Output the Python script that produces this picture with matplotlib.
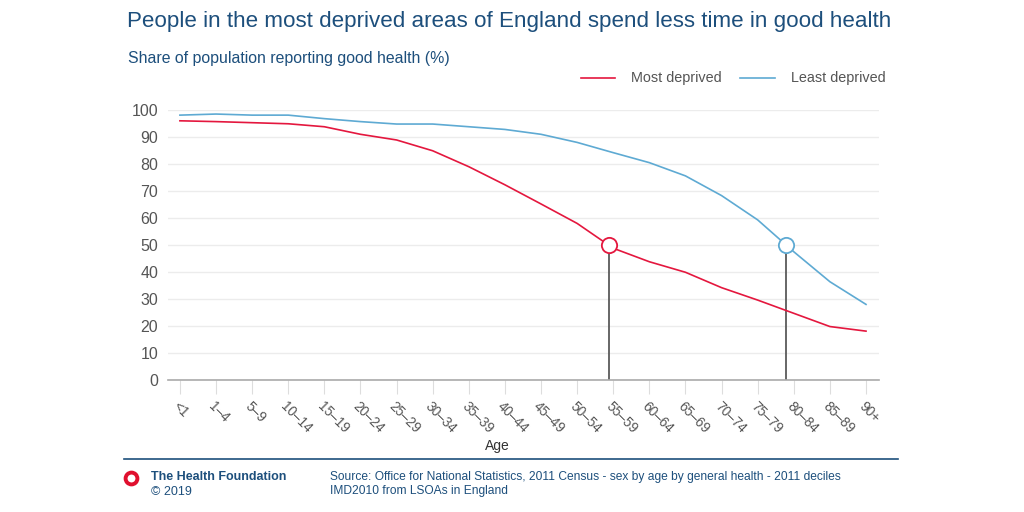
import numpy as np
import matplotlib
matplotlib.use("Agg")
import matplotlib.pyplot as plt
from matplotlib.lines import Line2D

plt.rcParams['font.family'] = ['Liberation Sans', 'DejaVu Sans']

ages = ["<1", "1–4", "5–9", "10–14", "15–19", "20–24", "25–29", "30–34", "35–39",
        "40–44", "45–49", "50–54", "55–59", "60–64", "65–69", "70–74", "75–79",
        "80–84", "85–89", "90+"]
most_deprived = [96.0, 95.7, 95.3, 94.9, 93.8, 91.0, 88.9, 84.9, 79.0, 72.3, 65.2,
                 58.0, 48.8, 43.8, 39.9, 34.2, 29.6, 24.7, 19.8, 18.1]
least_deprived = [98.1, 98.5, 98.1, 98.1, 96.8, 95.7, 94.8, 94.8, 93.8, 92.8, 91.0,
                  88.0, 84.2, 80.5, 75.6, 68.3, 59.3, 47.5, 36.4, 28.0]
threshold = 50
yticks = list(range(0, 101, 10))

RED = '#e4173e'
BLUE = '#5eaad3'
NAVY = '#1d4f7c'
GREY = '#555555'

fig = plt.figure(figsize=(10.24, 5.12), dpi=100)
ax = fig.add_axes([168/1024, 1-380/512, 711/1024, 270/512])

x = np.arange(len(ages))
ax.plot(x, most_deprived, color=RED, lw=1.2, zorder=3)
ax.plot(x, least_deprived, color=BLUE, lw=1.2, zorder=3)

# crossing points at the threshold (interpolated along the series)
def crossing(vals):
    v = np.array(vals)[::-1]
    return float(np.interp(threshold, v, x[::-1]))

for vals, col in [(most_deprived, RED), (least_deprived, BLUE)]:
    xc = crossing(vals)
    ax.plot([xc, xc], [0, threshold], color='#5a5a5a', lw=1.3, zorder=2)
    ax.plot([xc], [threshold], marker='o', ms=11, mfc='white', mec=col, mew=1.3, zorder=4)

ax.set_xlim(-0.33, 19.36)
ax.set_ylim(0, 100)
ax.set_yticks(yticks)
ax.set_yticklabels([str(t) for t in yticks], fontsize=11.5, color=GREY)
ax.grid(axis='y', color='#ececec', lw=1)
ax.set_axisbelow(True)
for s in ['top', 'right', 'left']:
    ax.spines[s].set_visible(False)
ax.spines['bottom'].set_color('#aaaaaa')
ax.spines['bottom'].set_linewidth(1.2)
ax.tick_params(axis='y', length=0, pad=7)
ax.tick_params(axis='x', length=10, color='#dddddd', pad=4)
ax.set_xticks(x)
ax.set_xticklabels(ages, rotation=-45, ha='left', va='top', rotation_mode='anchor',
                   fontsize=9.8, color=GREY)
ax.set_xlabel("Age", fontsize=10, color='#333333', labelpad=2)
ax.xaxis.label.set_x(0.463)

fig.text(127/1024, 1-22/512, "People in the most deprived areas of England spend less time in good health",
         fontsize=16.15, color=NAVY, va='center', ha='left')
fig.text(128/1024, 1-58/512, "Share of population reporting good health (%)",
         fontsize=11.4, color=NAVY, va='center', ha='left')

# legend
fig.add_artist(Line2D([581/1024, 615/1024], [1-78/512]*2, color=RED, lw=1.2))
fig.text(631/1024, 1-78/512, "Most deprived", fontsize=10.4, color=GREY, va='center')
fig.add_artist(Line2D([740/1024, 775/1024], [1-78/512]*2, color=BLUE, lw=1.2))
fig.text(791/1024, 1-78/512, "Least deprived", fontsize=10.4, color=GREY, va='center')

# footer
fig.add_artist(Line2D([124/1024, 898/1024], [1-459/512]*2, color=NAVY, lw=1.2))
fig.add_artist(Line2D([131/1024], [1-478/512], marker='o', ms=8.5, mfc='white',
                      mec='#e0102e', mew=2.8))
fig.text(151/1024, 1-477/512, "The Health Foundation", fontsize=9, color=NAVY,
         weight='bold', va='center')
fig.text(151/1024, 1-492/512, "© 2019", fontsize=9, color=NAVY, va='center')
fig.text(330/1024, 1-477/512,
         "Source: Office for National Statistics, 2011 Census - sex by age by general health - 2011 deciles",
         fontsize=8.65, color=NAVY, va='center')
fig.text(330/1024, 1-491/512, "IMD2010 from LSOAs in England", fontsize=8.65, color=NAVY, va='center')

fig.savefig("out.png", dpi=100, facecolor='white')
